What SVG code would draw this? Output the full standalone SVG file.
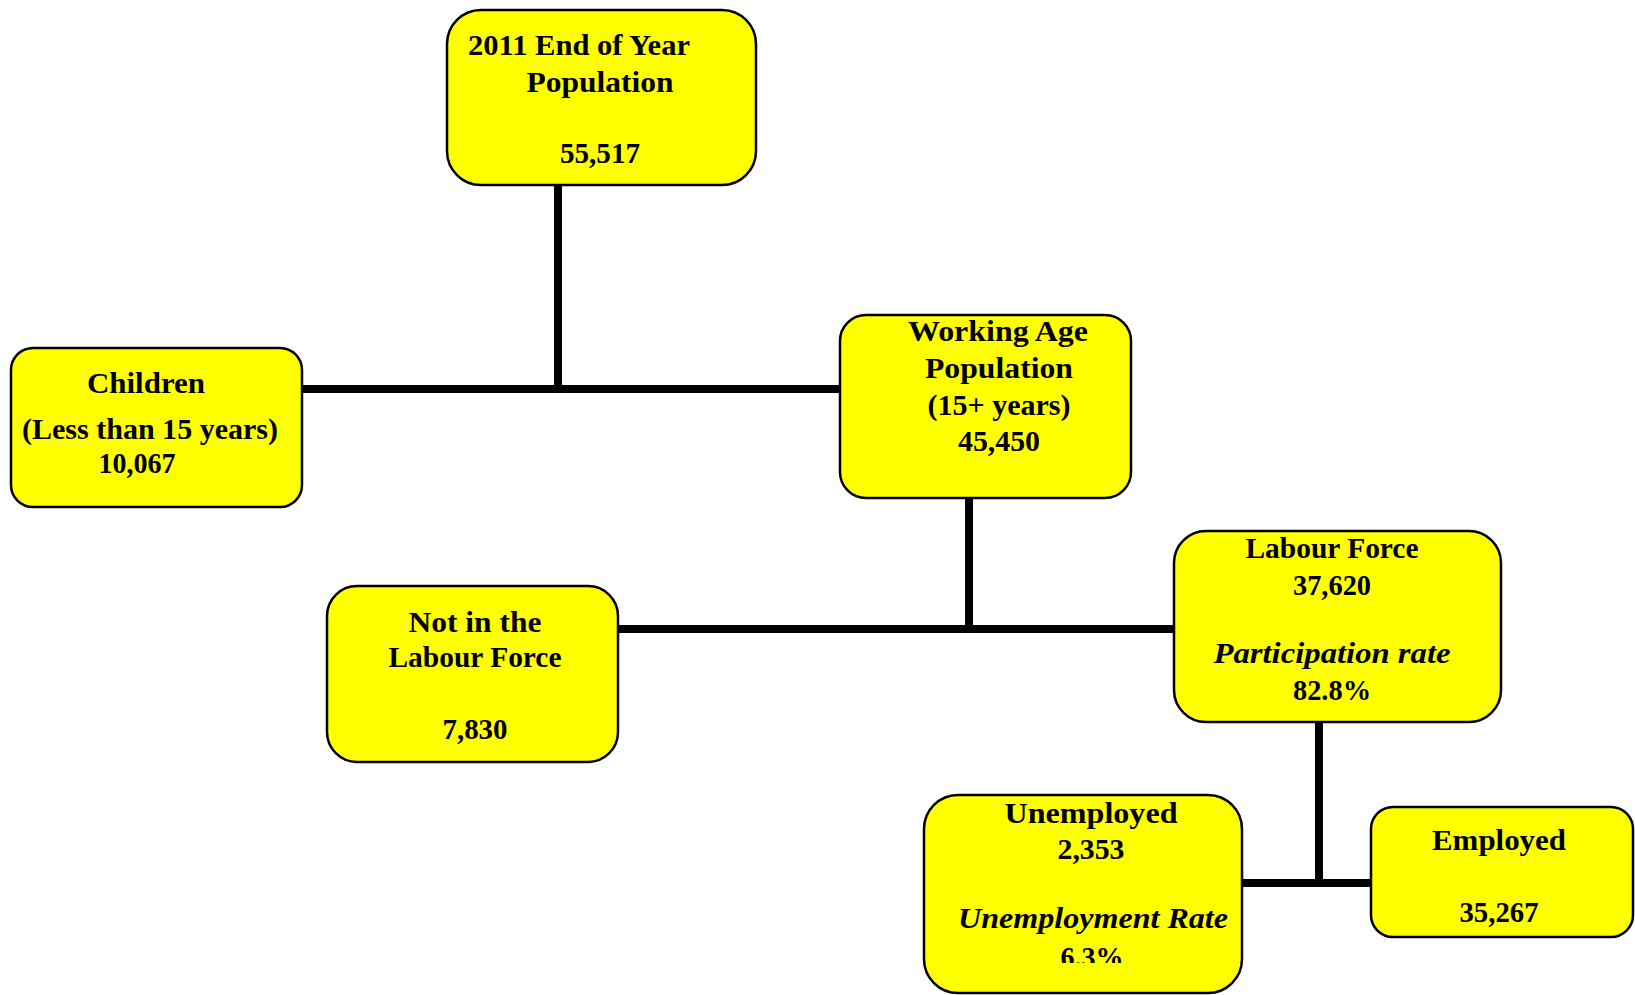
<svg xmlns="http://www.w3.org/2000/svg" width="1635" height="995" viewBox="0 0 1635 995">
<style>
.box{fill:#FFFF00;stroke:#000;stroke-width:2.5}
.t{font-family:"Liberation Serif","Times New Roman",serif;font-weight:bold;font-size:29.5px;fill:#000;text-anchor:middle}
.i{font-style:italic}
.c{stroke:#000;stroke-width:8;fill:none}
</style>
<defs>
<clipPath id="clipU"><rect x="0" y="0" width="1635" height="963"/></clipPath>
</defs>
<rect width="1635" height="995" fill="#fff"/>
<g id="connectors">
<path class="c" d="M558 185V389M302 389H840"/>
<path class="c" d="M969 498V629M618 629H1174"/>
<path class="c" d="M1319 722V883M1242 883H1371"/>
</g>
<g id="node-total">
<rect class="box" x="447" y="10" width="309" height="175" rx="34"/>
<text class="t" x="579" y="55" textLength="222" lengthAdjust="spacingAndGlyphs">2011 End of Year</text>
<text class="t" x="600" y="92" textLength="147" lengthAdjust="spacingAndGlyphs">Population</text>
<text class="t" x="600" y="163" textLength="80" lengthAdjust="spacingAndGlyphs">55,517</text>
</g>
<g id="node-children">
<rect class="box" x="11" y="348" width="291" height="159" rx="22"/>
<text class="t" x="146" y="393" textLength="118" lengthAdjust="spacingAndGlyphs">Children</text>
<text class="t" x="150" y="439" textLength="256" lengthAdjust="spacingAndGlyphs">(Less than 15 years)</text>
<text class="t" x="137" y="473" textLength="77" lengthAdjust="spacingAndGlyphs">10,067</text>
</g>
<g id="node-working">
<rect class="box" x="840" y="315" width="291" height="183" rx="26"/>
<text class="t" x="998" y="341" textLength="180" lengthAdjust="spacingAndGlyphs">Working Age</text>
<text class="t" x="999" y="378" textLength="148" lengthAdjust="spacingAndGlyphs">Population</text>
<text class="t" x="999" y="415" textLength="143" lengthAdjust="spacingAndGlyphs">(15+ years)</text>
<text class="t" x="999" y="451" textLength="82" lengthAdjust="spacingAndGlyphs">45,450</text>
</g>
<g id="node-notlf">
<rect class="box" x="327" y="586" width="291" height="176" rx="30"/>
<text class="t" x="475" y="632" textLength="133" lengthAdjust="spacingAndGlyphs">Not in the</text>
<text class="t" x="475" y="667" textLength="173" lengthAdjust="spacingAndGlyphs">Labour Force</text>
<text class="t" x="475" y="739" textLength="65" lengthAdjust="spacingAndGlyphs">7,830</text>
</g>
<g id="node-lf">
<rect class="box" x="1174" y="531" width="327" height="191" rx="32"/>
<text class="t" x="1332" y="558" textLength="173" lengthAdjust="spacingAndGlyphs">Labour Force</text>
<text class="t" x="1332" y="595" textLength="78" lengthAdjust="spacingAndGlyphs">37,620</text>
<text class="t i" x="1332" y="663" textLength="237" lengthAdjust="spacingAndGlyphs">Participation rate</text>
<text class="t" x="1332" y="700" textLength="78" lengthAdjust="spacingAndGlyphs">82.8%</text>
</g>
<g id="node-unemployed">
<rect class="box" x="924" y="795" width="318" height="198" rx="34"/>
<text class="t" x="1091" y="823" textLength="173" lengthAdjust="spacingAndGlyphs">Unemployed</text>
<text class="t" x="1091" y="859" textLength="67" lengthAdjust="spacingAndGlyphs">2,353</text>
<text class="t i" x="1093" y="928" textLength="270" lengthAdjust="spacingAndGlyphs">Unemployment Rate</text>
<text class="t" x="1092" y="967" textLength="63" lengthAdjust="spacingAndGlyphs" clip-path="url(#clipU)">6.3%</text>
</g>
<g id="node-employed">
<rect class="box" x="1371" y="807" width="262" height="130" rx="22"/>
<text class="t" x="1499" y="850" textLength="134" lengthAdjust="spacingAndGlyphs">Employed</text>
<text class="t" x="1499" y="922" textLength="79" lengthAdjust="spacingAndGlyphs">35,267</text>
</g>
</svg>
